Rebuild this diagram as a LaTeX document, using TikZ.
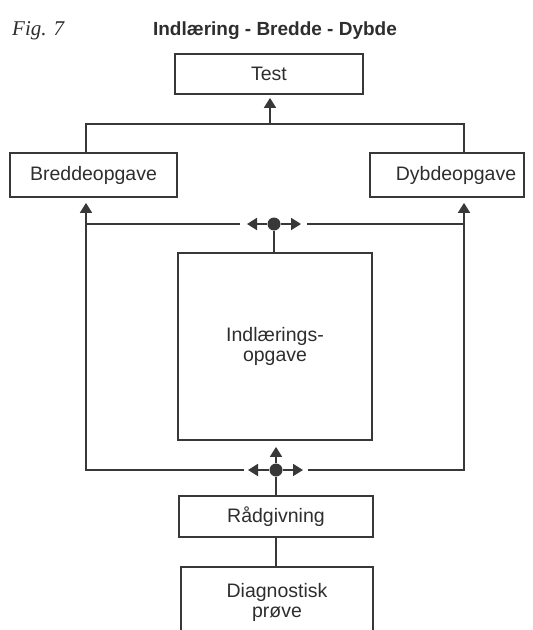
\documentclass[tikz,border=0pt]{standalone}
\usepackage{fontspec}
\setmainfont{Liberation Sans}
\newfontfamily\figfont{Liberation Serif}
\usetikzlibrary{arrows.meta}
\definecolor{inkgray}{HTML}{383838}
\definecolor{textgray}{HTML}{2E2E2E}

\begin{document}
\begin{tikzpicture}[x=1pt,y=-1pt,
  ink/.style={draw=inkgray, line width=1.8pt},
  box/.style={ink, rectangle, inner sep=0pt, fill=white,
    font=\fontsize{19.5}{20.5}\selectfont, text=textgray, align=center},
  flow/.style={ink, -{Triangle[length=10pt,width=12pt]}},
  hub/.style={circle, fill=inkgray, minimum size=13pt, inner sep=0pt}]

  % page frame and clipping of the bottom box
  \useasboundingbox (0,0) rectangle (533,630);
  \fill[white] (0,0) rectangle (533,630);
  \clip (0,0) rectangle (533,630);

  % heading
  \node[anchor=base west, inner sep=0pt, text=textgray,
        font=\figfont\itshape\fontsize{21}{24}\selectfont] (fig) at (12,35) {Fig. 7};
  \node[anchor=base, inner sep=0pt, text=textgray,
        font=\bfseries\fontsize{19}{22}\selectfont] (title) at (275,35) {Indlæring - Bredde - Dybde};

  % boxes
  \node[box, minimum width=188pt, minimum height=40pt] (test) at (269,74) {Test};
  \node[box, minimum width=167pt, minimum height=44pt] (bredde) at (93.5,175) {Breddeopgave};
  \node[box, minimum width=154pt, minimum height=44pt,
        label={[font=\fontsize{19.5}{20.5}\selectfont, text=textgray, xshift=9pt]center:Dybdeopgave}]
        (dybde) at (447,175) {};
  \node[box, minimum width=194pt, minimum height=187pt] (learn) at (275,346.5) {Indlærings-\\opgave};
  \node[box, minimum width=194pt, minimum height=41pt] (raad) at (276,516.5) {Rådgivning};
  \node[box, minimum width=192pt, minimum height=71pt] (diag) at (277,602.5) {Diagnostisk\\prøve};

  % junction points
  \node[hub] (hubtop) at (274,224) {};
  \node[hub] (hubbot) at (276,470) {};
  \coordinate (lx) at (86,0);
  \coordinate (rx) at (464,0);
  \coordinate (tj) at (270,124);

  % top: Bredde and Dybde joined up to Test
  \draw[ink] (bredde.north -| lx) |- (tj) -| (dybde.north -| rx);
  \draw[flow, shorten >=3pt] (tj) -- (test.south -| tj);

  % upper hub: fed from the learning box, spreading sideways
  \draw[ink] (learn.north -| hubtop) -- (hubtop);
  \coordinate (tl) at (247,224);
  \coordinate (tr) at (301,224);
  \draw[flow] (hubtop) -- (tl);
  \draw[flow] (hubtop) -- (tr);
  \coordinate (tls) at (240,224);
  \coordinate (trs) at (307,224);
  \draw[ink] (tls) -- (tls -| lx);
  \draw[ink] (trs) -- (trs -| rx);

  % lower hub: from counselling up to the learning box and out to both sides
  \draw[ink] (raad.north -| hubbot) -- (hubbot);
  \draw[flow, shorten >=6pt] (hubbot) -- (learn.south -| hubbot);
  \coordinate (bl) at (248,470);
  \coordinate (br) at (303,470);
  \draw[flow] (hubbot) -- (bl);
  \draw[flow] (hubbot) -- (br);
  \coordinate (bls) at (244,470);
  \coordinate (brs) at (308,470);
  \draw[flow, shorten >=5pt] (bls) -| (bredde.south -| lx);
  \draw[flow, shorten >=5pt] (brs) -| (dybde.south -| rx);

  % diagnosis leads to counselling
  \draw[ink] (diag.north -| raad) -- (raad.south);
\end{tikzpicture}
\end{document}
